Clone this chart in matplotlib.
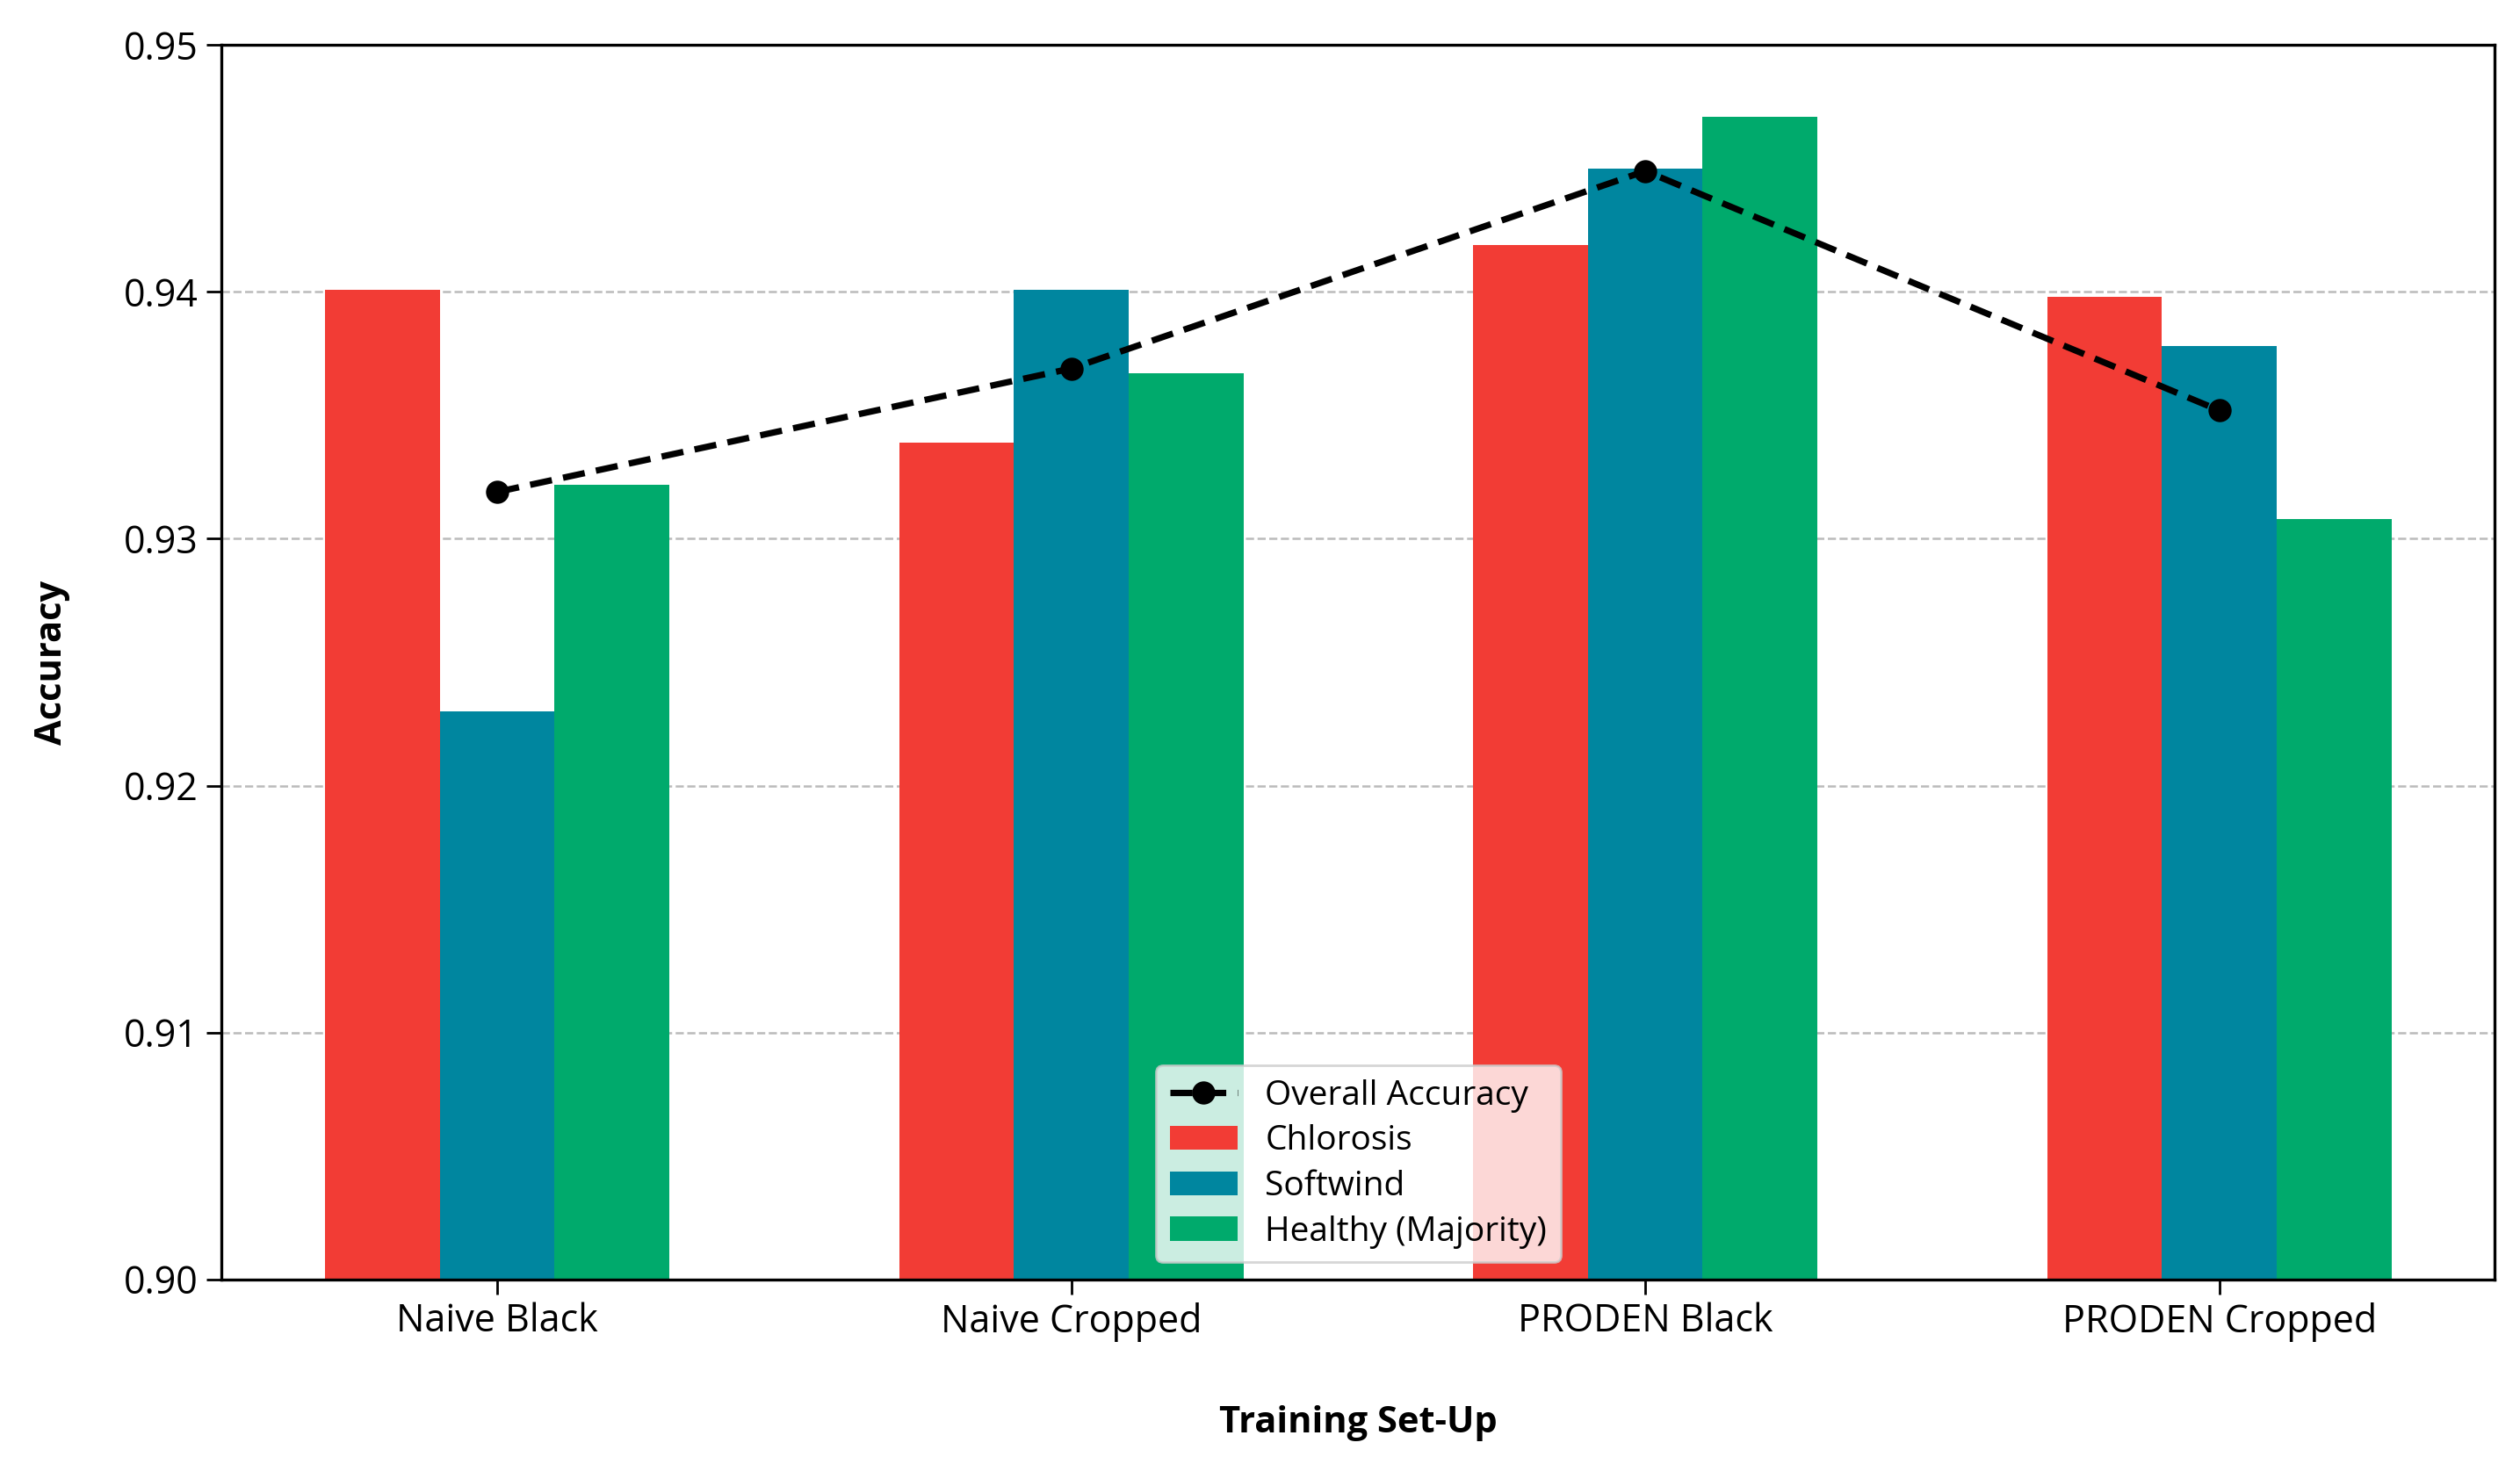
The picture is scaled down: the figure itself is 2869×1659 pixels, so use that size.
import numpy as np
import matplotlib
matplotlib.use("Agg")
import matplotlib.pyplot as plt

plt.rcParams['font.family'] = ['Open Sans', 'DejaVu Sans']

# Données
setups = ["Naive Black", "Naive Cropped", "PRODEN Black", "PRODEN Cropped"]
chlorosis = [0.9401, 0.9339, 0.9419, 0.9398]
softwind = [0.9230, 0.9401, 0.9450, 0.9378]
healthy = [0.9322, 0.9367, 0.9471, 0.9308]
overall = [0.9319, 0.9369, 0.9449, 0.9352]

red = "#F23C35"
blue = "#00869F"
green = "#00AA6C"

fig, ax = plt.subplots(figsize=(14.345, 8.295), dpi=200)
fig.subplots_adjust(left=0.088, right=0.990, top=0.969, bottom=0.122)

x = np.arange(len(setups))
w = 0.2
ax.bar(x - w, chlorosis, w, color=red, label="Chlorosis", zorder=2)
ax.bar(x, softwind, w, color=blue, label="Softwind", zorder=2)
ax.bar(x + w, healthy, w, color=green, label="Healthy (Majority)", zorder=2)
ax.plot(x, overall, color="black", linestyle="--", linewidth=2.6, dashes=(3.5, 1.8),
        marker="o", markersize=8.5, label="Overall Accuracy", zorder=3)

ax.set_ylim(0.90, 0.95)
ax.set_xlim(-0.48, 3.48)
ax.set_yticks([0.90, 0.91, 0.92, 0.93, 0.94, 0.95])
ax.set_yticklabels(["0.90", "0.91", "0.92", "0.93", "0.94", "0.95"])
ax.set_xticks(x)
ax.set_xticklabels(setups)
ax.tick_params(axis='both', labelsize=15.5, length=6, width=1)
ax.yaxis.grid(True, linestyle="--", color="#BBBBBB", linewidth=0.9, zorder=0)
ax.set_axisbelow(True)
for s in ax.spines.values():
    s.set_linewidth(1.2)

ax.set_ylabel("Accuracy", fontsize=15, fontweight="bold", labelpad=22)
ax.set_xlabel("Training Set-Up", fontsize=15, fontweight="bold", labelpad=26)

leg = ax.legend(loc="lower center", fontsize=14, framealpha=0.8,
                borderaxespad=0.5, handlelength=2.0, labelspacing=0.35)
leg.set_zorder(5)

fig.savefig("out.png", dpi=200)
